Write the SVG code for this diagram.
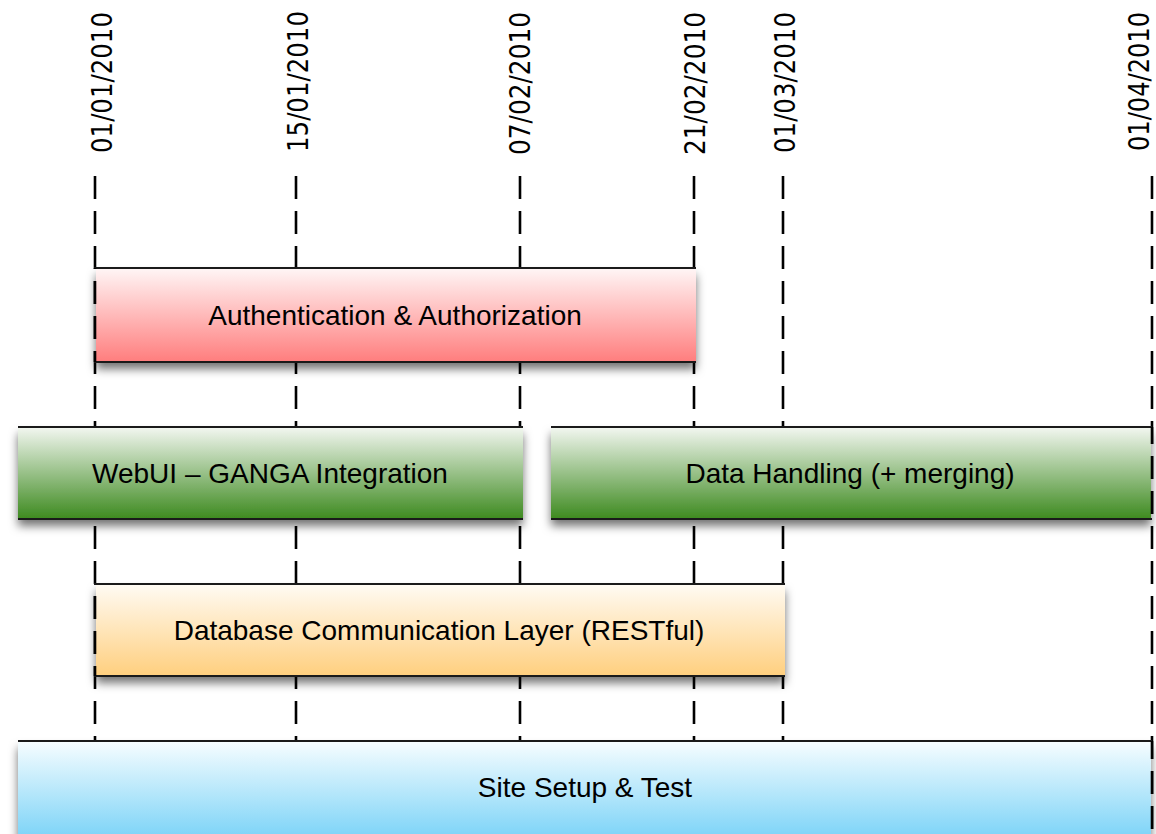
<svg xmlns="http://www.w3.org/2000/svg" width="1156" height="834" viewBox="0 0 1156 834">
  <style>
    .date { font-family: "DejaVu Sans Condensed", "DejaVu Sans", sans-serif; font-stretch: condensed; font-size: 29px; fill: #000; }
    .label { font-family: "Liberation Sans", Arial, sans-serif; font-size: 28px; fill: #000; text-anchor: middle; }
    .guide { stroke: #000; stroke-width: 2.6; stroke-dasharray: 23 12; fill: none; }
    .edge { stroke: #1a1a1a; stroke-width: 2.2; }
  </style>
  <defs>
    <linearGradient id="gRed" x1="0" y1="0" x2="0" y2="1">
      <stop offset="0" stop-color="#fff6f6"/>
      <stop offset="1" stop-color="#ff7d7d"/>
    </linearGradient>
    <linearGradient id="gGreen" x1="0" y1="0" x2="0" y2="1">
      <stop offset="0" stop-color="#f3f7f1"/>
      <stop offset="1" stop-color="#3d8a1f"/>
    </linearGradient>
    <linearGradient id="gOrange" x1="0" y1="0" x2="0" y2="1">
      <stop offset="0" stop-color="#fffbf4"/>
      <stop offset="1" stop-color="#ffcf7e"/>
    </linearGradient>
    <linearGradient id="gBlue" x1="0" y1="0" x2="0" y2="1">
      <stop offset="0" stop-color="#f7fdff"/>
      <stop offset="1" stop-color="#78d2f7"/>
    </linearGradient>
    <filter id="shadow" x="-5%" y="-20%" width="110%" height="160%">
      <feDropShadow dx="0" dy="7" stdDeviation="5" flood-color="#000" flood-opacity="0.55"/>
    </filter>
    <clipPath id="clipAuth"><rect x="0" y="268" width="1156" height="94"/></clipPath>
    <clipPath id="clipMid"><rect x="0" y="427" width="1156" height="92"/></clipPath>
    <clipPath id="clipDb"><rect x="0" y="584" width="1156" height="92"/></clipPath>
    <clipPath id="clipSite"><rect x="0" y="741" width="1156" height="93"/></clipPath>
  </defs>
  <rect width="1156" height="834" fill="#fff"/>

  <g id="dates">
    <text class="date" x="112" y="153" transform="rotate(-90 112 153)" textLength="141" lengthAdjust="spacingAndGlyphs">01/01/2010</text>
    <text class="date" x="308" y="152" transform="rotate(-90 308 152)" textLength="141" lengthAdjust="spacingAndGlyphs">15/01/2010</text>
    <text class="date" x="530" y="155" transform="rotate(-90 530 155)" textLength="143" lengthAdjust="spacingAndGlyphs">07/02/2010</text>
    <text class="date" x="705" y="155" transform="rotate(-90 705 155)" textLength="143" lengthAdjust="spacingAndGlyphs">21/02/2010</text>
    <text class="date" x="795" y="153" transform="rotate(-90 795 153)" textLength="141" lengthAdjust="spacingAndGlyphs">01/03/2010</text>
    <text class="date" x="1149" y="151" transform="rotate(-90 1149 151)" textLength="139" lengthAdjust="spacingAndGlyphs">01/04/2010</text>
  </g>

  <g id="connectors">
    <line class="guide" x1="95" y1="176" x2="95" y2="834"/>
    <line class="guide" x1="296" y1="176" x2="296" y2="834"/>
    <line class="guide" x1="520" y1="176" x2="520" y2="834"/>
    <line class="guide" x1="694" y1="176" x2="694" y2="834"/>
    <line class="guide" x1="783" y1="176" x2="783" y2="834"/>
    <line class="guide" x1="1152" y1="176" x2="1152" y2="834"/>
  </g>

  <g id="auth">
    <rect x="96" y="268" width="600" height="94" fill="url(#gRed)" filter="url(#shadow)"/>
    <line class="edge" x1="94" y1="268" x2="696" y2="268"/>
    <line class="edge" x1="94" y1="362" x2="696" y2="362"/>
    <line class="guide" x1="95" y1="176" x2="95" y2="834" clip-path="url(#clipAuth)"/>
    <text class="label" x="395" y="325">Authentication &amp; Authorization</text>
  </g>

  <g id="webui">
    <rect x="18" y="427" width="505" height="92" fill="url(#gGreen)" filter="url(#shadow)"/>
    <line class="edge" x1="18" y1="427" x2="523" y2="427"/>
    <line class="edge" x1="18" y1="519" x2="523" y2="519"/>
    <text class="label" x="270" y="483">WebUI – GANGA Integration</text>
  </g>

  <g id="datahandling">
    <rect x="551" y="427" width="600" height="92" fill="url(#gGreen)" filter="url(#shadow)"/>
    <line class="edge" x1="551" y1="427" x2="1152" y2="427"/>
    <line class="edge" x1="551" y1="519" x2="1152" y2="519"/>
    <line class="guide" x1="1152" y1="176" x2="1152" y2="834" clip-path="url(#clipMid)"/>
    <text class="label" x="850" y="483">Data Handling (+ merging)</text>
  </g>

  <g id="database">
    <rect x="96" y="584" width="689" height="92" fill="url(#gOrange)" filter="url(#shadow)"/>
    <line class="edge" x1="94" y1="584" x2="785" y2="584"/>
    <line class="edge" x1="94" y1="676" x2="785" y2="676"/>
    <line class="guide" x1="95" y1="176" x2="95" y2="834" clip-path="url(#clipDb)"/>
    <text class="label" x="439" y="640">Database Communication Layer (RESTful)</text>
  </g>

  <g id="site">
    <rect x="18" y="741" width="1133" height="100" fill="url(#gBlue)" filter="url(#shadow)"/>
    <line class="edge" x1="18" y1="741" x2="1152" y2="741"/>
    <line class="guide" x1="1152" y1="176" x2="1152" y2="834" clip-path="url(#clipSite)"/>
    <text class="label" x="585" y="797">Site Setup &amp; Test</text>
  </g>
</svg>
